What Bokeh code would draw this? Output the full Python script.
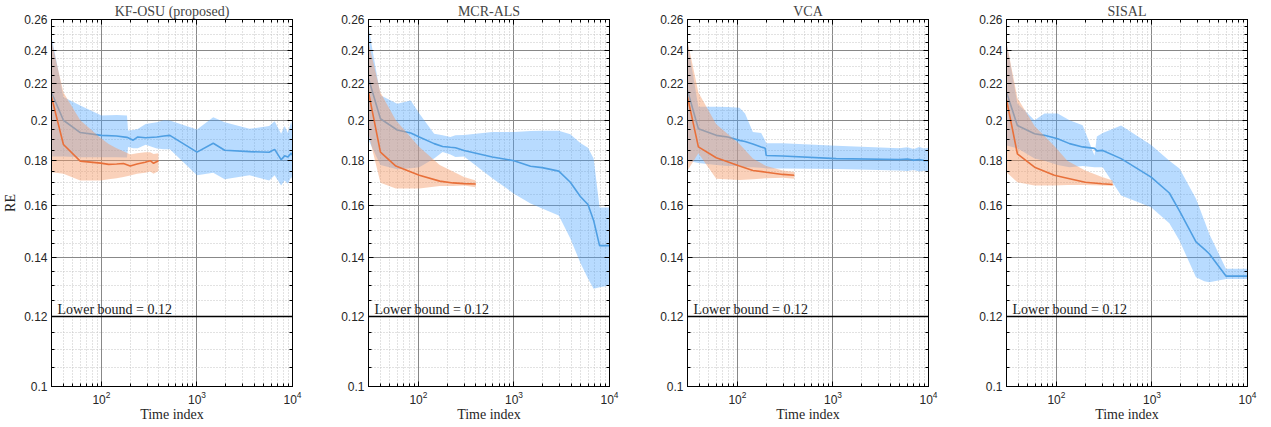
from bokeh.plotting import figure
from bokeh.layouts import row
from bokeh.models import FixedTicker, LogAxis, Span, Label
from bokeh.embed import file_html
from bokeh.resources import INLINE

# ---------------- data ----------------
titles = ["KF-OSU (proposed)", "MCR-ALS", "VCA", "SISAL"]

# KF-OSU
kf_blue_t = [30, 40, 60, 100, 144, 185, 190, 215, 240, 290, 380, 450, 520, 1000, 1480, 1950, 3550, 5700, 6500, 7600, 8270, 8950, 9700, 10000]
kf_blue_mean = [0.215, 0.2, 0.1937, 0.1923, 0.192, 0.1913, 0.1911, 0.1899, 0.1915, 0.1911, 0.1915, 0.192, 0.1923, 0.1841, 0.1884, 0.185, 0.1843, 0.184, 0.1854, 0.1805, 0.1823, 0.1818, 0.1836, 0.1825]
kf_blue_hi = [0.249, 0.2125, 0.2078, 0.2025, 0.2028, 0.2025, 0.1948, 0.195, 0.1955, 0.1981, 0.199, 0.2, 0.1999, 0.1952, 0.2016, 0.199, 0.1956, 0.197, 0.1995, 0.1931, 0.197, 0.1935, 0.1995, 0.1955]
kf_blue_lo = [0.182, 0.182, 0.1817, 0.1817, 0.1817, 0.1815, 0.1866, 0.186, 0.186, 0.1876, 0.1858, 0.1855, 0.1855, 0.1733, 0.1745, 0.1715, 0.1733, 0.171, 0.1733, 0.1688, 0.171, 0.1695, 0.1725, 0.171]
kf_or_t = [30, 40, 60, 98, 119, 144, 170, 200, 236, 287, 324, 351, 395]
kf_or_mean = [0.2125, 0.1878, 0.1798, 0.1789, 0.1783, 0.1785, 0.1787, 0.1775, 0.1785, 0.1793, 0.18, 0.1788, 0.18]
kf_or_hi = [0.246, 0.215, 0.2, 0.191, 0.188, 0.186, 0.1845, 0.183, 0.1835, 0.184, 0.184, 0.1832, 0.1835]
kf_or_lo = [0.1747, 0.174, 0.171, 0.171, 0.1715, 0.172, 0.1725, 0.1732, 0.174, 0.1745, 0.175, 0.174, 0.1752]

# MCR-ALS
mcr_blue_t = [30, 40, 60, 83, 102, 146, 179, 216, 244, 300, 593, 1000, 1490, 1970, 2945, 3890, 4950, 5950, 6820, 7870, 10000]
mcr_blue_mean = [0.223, 0.2008, 0.195, 0.1935, 0.1915, 0.1882, 0.1868, 0.1864, 0.1862, 0.1849, 0.1818, 0.18, 0.1774, 0.1768, 0.1752, 0.1702, 0.164, 0.1606, 0.1541, 0.1443, 0.1443]
mcr_blue_hi = [0.255, 0.2134, 0.2088, 0.2106, 0.2035, 0.1931, 0.1923, 0.1915, 0.1923, 0.1925, 0.194, 0.194, 0.1945, 0.1946, 0.1946, 0.1928, 0.1885, 0.1862, 0.181, 0.1594, 0.1594]
mcr_blue_lo = [0.19, 0.178, 0.176, 0.1765, 0.177, 0.181, 0.1842, 0.183, 0.1818, 0.182, 0.172, 0.1652, 0.161, 0.159, 0.1561, 0.147, 0.138, 0.1325, 0.129, 0.1295, 0.1301]
mcr_or_t = [30, 40, 58, 102, 167, 230, 300, 398]
mcr_or_mean = [0.2152, 0.1841, 0.1775, 0.1733, 0.1707, 0.1699, 0.1696, 0.1694]
mcr_or_hi = [0.245, 0.215, 0.2, 0.1866, 0.178, 0.175, 0.1725, 0.171]
mcr_or_lo = [0.193, 0.17, 0.1675, 0.1675, 0.1685, 0.1685, 0.1688, 0.168]

# VCA
vca_blue_t = [30, 39, 60, 79, 105, 120, 145, 177, 195, 200, 298, 1080, 4950, 6000, 7000, 8000, 9000, 10000]
vca_blue_mean = [0.2162, 0.1956, 0.1923, 0.1915, 0.1898, 0.1892, 0.188, 0.1866, 0.186, 0.1825, 0.1822, 0.181, 0.1806, 0.1808, 0.1803, 0.1806, 0.1801, 0.18]
vca_blue_hi = [0.245, 0.2071, 0.2071, 0.207, 0.2066, 0.2035, 0.194, 0.1935, 0.1898, 0.1884, 0.1884, 0.1872, 0.1859, 0.1864, 0.1856, 0.1866, 0.1858, 0.1862]
vca_blue_lo = [0.18, 0.179, 0.178, 0.1775, 0.1775, 0.177, 0.177, 0.1768, 0.1765, 0.1764, 0.1764, 0.1762, 0.1755, 0.1752, 0.1757, 0.175, 0.1754, 0.175]
vca_or_t = [30, 39, 60, 105, 145, 200, 298, 394]
vca_or_mean = [0.2125, 0.1866, 0.1814, 0.1775, 0.1755, 0.1747, 0.1737, 0.1733]
vca_or_hi = [0.246, 0.215, 0.198, 0.188, 0.181, 0.1775, 0.1755, 0.1748]
vca_or_lo = [0.1755, 0.1835, 0.1717, 0.1712, 0.1715, 0.172, 0.1722, 0.1718]

# SISAL
sis_blue_t = [30, 39, 59, 75, 103, 137, 188, 250, 265, 305, 475, 980, 1520, 1940, 2890, 3530, 3980, 5950, 10000]
sis_blue_mean = [0.2152, 0.1973, 0.1931, 0.1923, 0.1906, 0.1882, 0.1866, 0.1859, 0.1847, 0.1849, 0.181, 0.1725, 0.1655, 0.158, 0.1457, 0.143, 0.1413, 0.1333, 0.1333]
sis_blue_hi = [0.245, 0.2089, 0.2, 0.2035, 0.2035, 0.2, 0.1974, 0.1825, 0.1917, 0.1935, 0.1973, 0.1875, 0.18, 0.1764, 0.163, 0.1541, 0.1487, 0.1359, 0.1359]
sis_blue_lo = [0.1873, 0.186, 0.181, 0.18, 0.178, 0.177, 0.1775, 0.177, 0.177, 0.177, 0.1644, 0.1595, 0.153, 0.1462, 0.1329, 0.1315, 0.1312, 0.1323, 0.1323]
sis_or_t = [30, 39, 59, 95, 130, 200, 300, 388]
sis_or_mean = [0.211, 0.1833, 0.177, 0.1733, 0.172, 0.1702, 0.1695, 0.1692]
sis_or_hi = [0.245, 0.212, 0.197, 0.187, 0.18, 0.1755, 0.1725, 0.171]
sis_or_lo = [0.1747, 0.1702, 0.1688, 0.1688, 0.169, 0.169, 0.1688, 0.1686]

y_ticks = [0.1, 0.12, 0.14, 0.16, 0.18, 0.2, 0.22, 0.24, 0.26]
y_tick_labels = ["0.1", "0.12", "0.14", "0.16", "0.18", "0.2", "0.22", "0.24", "0.26"]
x_ticks = [100, 1000, 10000]
lower_bound = 0.12

# ---------------- styling ----------------
BLUE_LINE = "#4f9fe3"
BLUE_FILL = "#4da6ff"
OR_LINE = "#e8703a"
OR_FILL = "#f39a66"
SERIF = "Liberation Serif"
SANS = "Liberation Sans"

y_minor = [round(0.1 + 0.005 * i, 3) for i in range(0, 33)]
x_minor = [m * 10 ** e for e in (1, 2, 3) for m in range(2, 10)]

panels = [
    (kf_blue_t, kf_blue_mean, kf_blue_lo, kf_blue_hi, kf_or_t, kf_or_mean, kf_or_lo, kf_or_hi),
    (mcr_blue_t, mcr_blue_mean, mcr_blue_lo, mcr_blue_hi, mcr_or_t, mcr_or_mean, mcr_or_lo, mcr_or_hi),
    (vca_blue_t, vca_blue_mean, vca_blue_lo, vca_blue_hi, vca_or_t, vca_or_mean, vca_or_lo, vca_or_hi),
    (sis_blue_t, sis_blue_mean, sis_blue_lo, sis_blue_hi, sis_or_t, sis_or_mean, sis_or_lo, sis_or_hi),
]
borders = [(44, 33), (43, 33), (45, 32), (46, 14)]


def style_axis(ax, show_labels):
    ax.axis_line_color = "black"
    ax.major_tick_line_color = "black"
    ax.minor_tick_line_color = "black"
    ax.major_tick_in = 5
    ax.major_tick_out = 0
    ax.minor_tick_in = 3
    ax.minor_tick_out = 0
    ax.major_label_text_font = SANS
    ax.major_label_text_color = "#262626"
    ax.major_label_standoff = 4
    ax.major_label_text_font_size = "12px"
    if not show_labels:
        ax.major_label_text_font_size = "1px"
        ax.major_label_text_alpha = 0
        ax.major_label_standoff = 0


figs = []
for i, (title, data, (bl, br)) in enumerate(zip(titles, panels, borders)):
    bt, bm, blo, bhi, ot, om, olo, ohi = data
    p = figure(x_axis_type="log", y_axis_type="log", x_range=(30, 10000), y_range=(0.1, 0.26),
               frame_width=241, frame_height=367, output_backend="svg", toolbar_location=None,
               min_border_left=bl, min_border_right=br, min_border_top=0, min_border_bottom=0,
               title=title)
    p.title.text_font = SERIF
    p.title.text_font_size = "14px"
    p.title.text_font_style = "normal"
    p.title.align = "center"
    p.title.standoff = 2
    p.title.offset = 0

    top = LogAxis()
    right = LogAxis()
    p.add_layout(top, "above")
    p.add_layout(right, "right")

    for ax in p.xaxis:
        ax.ticker = FixedTicker(ticks=x_ticks, minor_ticks=x_minor)
    for ax in p.yaxis:
        ax.ticker = FixedTicker(ticks=y_ticks, minor_ticks=y_minor)
        ax.major_label_overrides = {v: s for v, s in zip(y_ticks, y_tick_labels)}
    style_axis(p.below[0], True)
    style_axis(p.left[0], True)
    style_axis(top, False)
    style_axis(right, False)

    p.below[0].axis_label = "Time index"
    p.below[0].axis_label_text_font = SERIF
    p.below[0].axis_label_text_font_size = "14px"
    p.below[0].axis_label_text_font_style = "normal"
    p.below[0].axis_label_text_color = "#262626"
    p.below[0].axis_label_standoff = 0
    if i == 0:
        p.left[0].axis_label = "RE"
        p.left[0].axis_label_text_font = SERIF
        p.left[0].axis_label_text_font_size = "14px"
        p.left[0].axis_label_text_font_style = "normal"
        p.left[0].axis_label_text_color = "#262626"
        p.left[0].axis_label_standoff = 3

    for g in (p.xgrid, p.ygrid):
        g.grid_line_color = "#888888"
        g.grid_line_width = 1
        g.minor_grid_line_color = "#c4c4c4"
        g.minor_grid_line_dash = "1 2"
        g.minor_grid_line_width = 1

    p.outline_line_color = "black"
    p.outline_line_width = 1
    p.background_fill_color = "white"
    p.border_fill_color = "white"

    p.add_layout(Span(location=lower_bound, dimension="width", line_color="black", line_width=1.5))
    p.add_layout(Label(x=6, x_units="screen", y=0.1221, text="Lower bound = 0.12",
                       text_font=SERIF, text_font_size="14px", text_color="#1a1a1a",
                       text_baseline="alphabetic"))

    p.varea(x=bt, y1=blo, y2=bhi, fill_color=BLUE_FILL, fill_alpha=0.4)
    p.line(x=bt, y=bm, line_color=BLUE_LINE, line_width=1.6)
    p.varea(x=ot, y1=olo, y2=ohi, fill_color=OR_FILL, fill_alpha=0.45)
    p.line(x=ot, y=om, line_color=OR_LINE, line_width=1.6)
    figs.append(p)

layout = row(*figs)
open("out.html", "w").write(file_html(layout, INLINE))
